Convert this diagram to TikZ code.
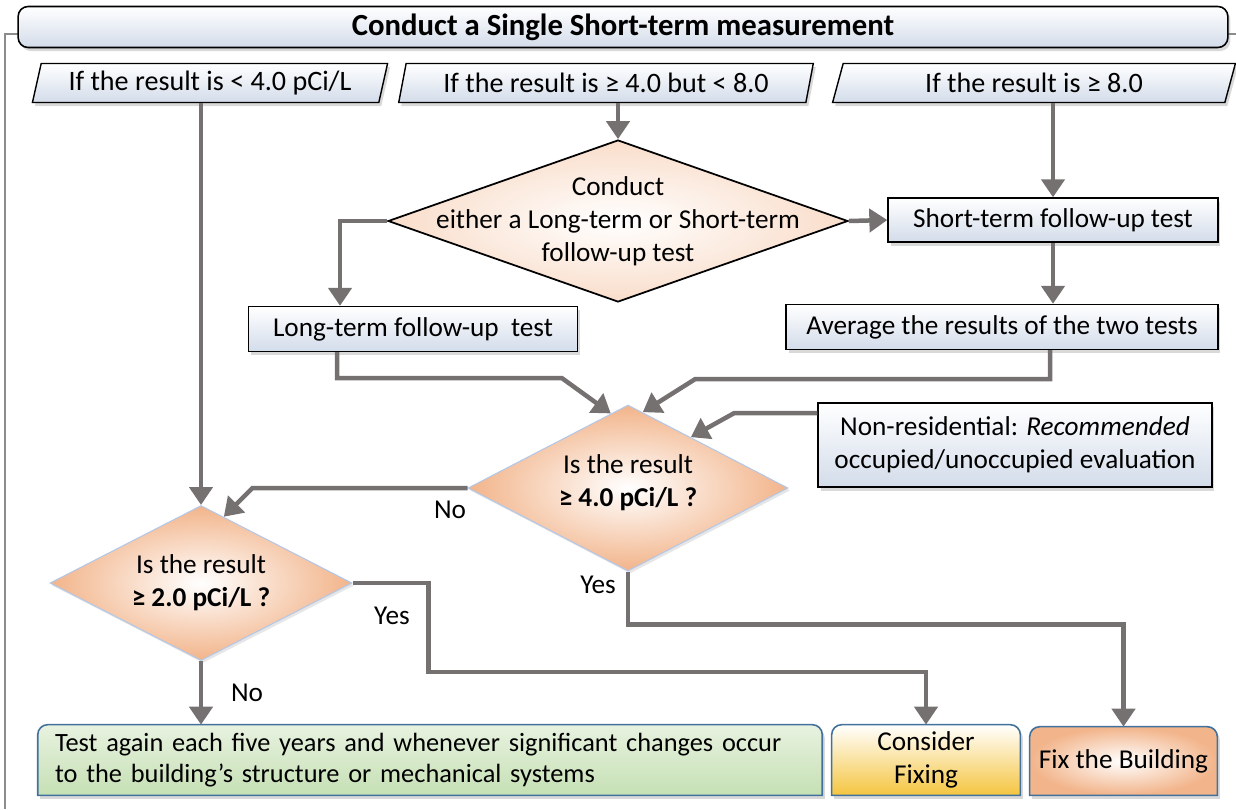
\documentclass[tikz,border=0pt]{standalone}
\usepackage{fontspec}
\setmainfont{Carlito}
\usetikzlibrary{positioning,shapes.geometric,arrows.meta,shadows,backgrounds}
\definecolor{linegray}{HTML}{767171}
\definecolor{framegray}{HTML}{8C8C8C}
\definecolor{boxblue}{HTML}{D3DCEA}
\definecolor{peach}{HTML}{F9DDCA}
\definecolor{orangepeach}{HTML}{F2B48A}
\definecolor{edgeblue}{HTML}{41719C}
\definecolor{paleblue}{HTML}{B4C7E7}
\definecolor{leafgreen}{HTML}{C5E0B4}
\definecolor{paleleaf}{HTML}{E8F2E0}
\definecolor{gold}{HTML}{F5C540}
\tikzset{%
    every node/.style={
      font=\fontsize{15.5}{18.7}\selectfont
    },
    boxshadow/.style={
      drop shadow={shadow xshift=0.05cm, shadow yshift=-0.07cm, opacity=0.3}
    },
    titlebox/.style={
      rectangle,
      rounded corners=0.2cm,
      draw=black,
      line width=0.9pt,
      top color=white,
      bottom color=boxblue,
      minimum width=24.2cm,
      minimum height=0.82cm,
      font=\fontsize{17.5}{20}\selectfont\bfseries,
      boxshadow
    },
    ifbox/.style={
      trapezium,
      trapezium left angle=73,
      trapezium right angle=107,
      trapezium stretches=true,
      draw=black,
      line width=0.8pt,
      top color=white,
      bottom color=boxblue,
      minimum height=0.78cm,
      inner sep=0pt,
      font=\fontsize{16}{19}\selectfont,
      boxshadow
    },
    stepbox/.style={
      rectangle,
      draw=black,
      line width=0.8pt,
      top color=white,
      bottom color=boxblue,
      inner sep=0pt,
      boxshadow
    },
    choice/.style={
      diamond,
      draw=black,
      line width=1pt,
      inner color=white,
      outer color=peach,
      inner sep=0pt
    },
    check/.style={
      diamond,
      draw=paleblue,
      line width=0.6pt,
      inner color=white,
      outer color=orangepeach,
      inner sep=0pt,
      drop shadow={shadow xshift=0.04cm, shadow yshift=-0.05cm, opacity=0.2}
    },
    endbox/.style={
      rectangle,
      inner sep=0pt,
      minimum height=1.4cm
    },
    againfill/.style={top color=paleleaf, bottom color=leafgreen},
    considerfill/.style={top color=white, bottom color=gold},
    fixfill/.style={inner color=white, outer color=orangepeach},
    flow/.style={
      draw=linegray,
      line width=0.09cm,
      -{Triangle[width=0.46cm, length=0.36cm]}
    }
  }

\begin{document}
\begin{tikzpicture}[x=0.02cm, y=-0.02cm]
      \useasboundingbox (0,0) rectangle (1236,809);

      % frame round the chart
      \draw[framegray, line width=1.1pt] (5,809) -- (5,34) -- (20,34);
      \draw[framegray, line width=1.1pt] (1226,34) -- (1236,34);

      \node [titlebox] (title) at (623,27) {Conduct a Single Short-term measurement};

      \node [ifbox, minimum width=7.12cm] (lowpar) at (210,83) {If the result is < 4.0 pCi/L};
      \node [ifbox, minimum width=8.3cm] (midpar) at (606,83) {If the result is ≥ 4.0 but < 8.0};
      \node [ifbox, minimum width=8.06cm] (highpar) at (1034,83) {If the result is ≥ 8.0};

      \node [choice, minimum width=9.2cm, minimum height=3.24cm,
        label={[align=center]center:Conduct\\either a Long-term or Short-term\\follow-up test}] (conduct) at (618,221) {};

      \node [stepbox, minimum width=6.6cm, minimum height=0.88cm] (shortt) at (1053,220) {Short-term follow-up test};
      \node [stepbox, minimum width=6.58cm, minimum height=0.9cm] (longt) at (413,329) {Long-term follow-up\ \ test};
      \node [stepbox, minimum width=8.64cm, minimum height=0.9cm] (avg) at (1002,327) {Average the results of the two tests};
      \node [stepbox, minimum width=7.88cm, minimum height=1.68cm, align=center] (nonres) at (1015,445)
        {Non-residential: \textit{Recommended}\\occupied/unoccupied evaluation};

      \node [check, minimum width=6.4cm, minimum height=3.32cm,
        label={[align=center, yshift=0.1cm]center:Is the result\\\bfseries ≥ 4.0 pCi/L ?}] (isfour) at (628,488) {};
      \node [check, minimum width=6.04cm, minimum height=3.1cm,
        label={[align=center]center:Is the result\\\bfseries ≥ 2.0 pCi/L ?}] (istwo) at (201,583) {};

      \node [endbox, minimum width=15.68cm, text width=15cm, align=left,
        font=\fontsize{15}{17.5}\selectfont] (again) at (430,760)
        {Test again each five years and whenever significant changes occur\\to the building’s structure or mechanical systems};
      \node [endbox, minimum width=3.76cm, align=center] (consider) at (926,760) {Consider\\Fixing};
      \node [endbox, minimum width=3.74cm, minimum height=1.36cm] (fix) at (1123.5,761) {Fix the Building};

      \begin{pgfonlayer}{background}
        \foreach \n in {again, consider, fix}
          \draw[\n fill, draw=edgeblue, line width=0.9pt, boxshadow]
            (\n.south west) -- ([yshift=-0.2cm]\n.north west)
            arc[start angle=180, end angle=90, radius=0.2cm]
            -- ([xshift=-0.2cm]\n.north east)
            arc[start angle=90, end angle=0, radius=0.2cm]
            -- (\n.south east) -- cycle;
      \end{pgfonlayer}

      \node (nofour) at (450,510) {No};
      \node (yesfour) at (598,585) {Yes};
      \node (yestwo) at (392,616) {Yes};
      \node (notwo) at (247,693) {No};

      \draw [flow] (lowpar.south -| istwo.north) -- (istwo.north);
      \draw [flow] (midpar.south -| conduct.north) -- (conduct.north);
      \draw [flow] (highpar.south -| shortt.north) -- (shortt.north);

      \draw [flow] (conduct.east) -- (shortt.west);
      \draw [flow] (conduct.west) -| ([xshift=-1.46cm]longt.north);
      \draw [flow] (shortt.south) -- (shortt.south |- avg.north);

      \draw [flow] ([xshift=-1.52cm]longt.south) |- ++(225,26) -- (isfour.103);
      \draw [flow] ([xshift=0.96cm]avg.south) |- ++(-355,29) -- (isfour.79);
      \draw [flow] ([yshift=0.64cm]nonres.west) -- ++(-83,0) -- (isfour.39);

      \draw [flow] (isfour.west) -- ++(-215,0) -- (istwo.71);
      \draw [flow] (isfour.south) -- ++(0,53) -| (fix.north);
      \draw [flow] (istwo.east) -- ++(76,0) -- ++(0,89) -| (consider.north);
      \draw [flow] (istwo.south) -- (istwo.south |- again.north);
\end{tikzpicture}
\end{document}
